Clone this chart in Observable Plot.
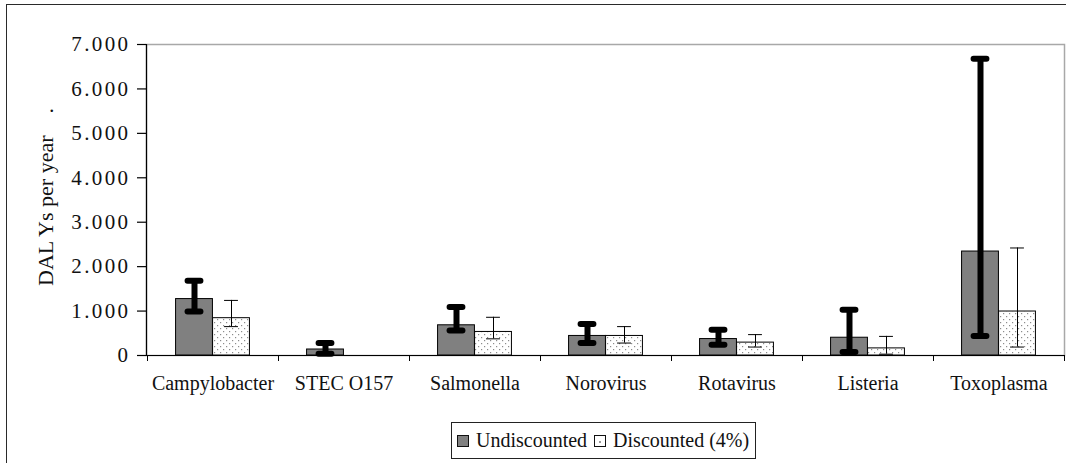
<!DOCTYPE html>
<html>
<head>
<meta charset="utf-8">
<script src="https://cdn.jsdelivr.net/npm/d3@7"></script>
<script src="https://cdn.jsdelivr.net/npm/@observablehq/plot@0.6"></script>
<style>
  html, body { margin: 0; padding: 0; background: #fff; }
  #wrap { position: relative; width: 1066px; height: 463px; overflow: hidden; background: #fff; }
  #outer { position: absolute; left: 6px; top: 4px; width: 1100px; height: 520px; border: 1.5px solid #2a2a2a; box-sizing: border-box; }
  #chart { position: absolute; left: 0; top: 0; }
  #chart svg, #chart svg text { font-family: "Liberation Serif", "Times New Roman", "DejaVu Serif", serif !important; }
  #chart svg text { white-space: pre; }
  #chart svg g[aria-label="y-axis tick label"] text { letter-spacing: 2.4px; }
  #legend { position: absolute; left: 451px; top: 422px; width: 305px; height: 37px; box-sizing: border-box;
    border: 1px solid #222; display: flex; align-items: center; padding-left: 5px; white-space: nowrap;
    font-family: "Liberation Serif", "Times New Roman", "DejaVu Serif", serif; font-size: 20px; color: #111; background: #fff; }
  .sw { width: 10px; height: 10px; border: 1px solid #111; display: inline-block; flex: none; }
  .lab { margin-left: 7px; margin-right: 7px; }
</style>
</head>
<body>
<svg width="0" height="0" style="position:absolute">
  <defs>
    <pattern id="dots" width="6" height="6" patternUnits="userSpaceOnUse">
      <rect width="6" height="6" fill="#fff"></rect>
      <rect x="1" y="1" width="1.2" height="1.2" fill="#8c8c8c"></rect>
      <rect x="4" y="4" width="1.2" height="1.2" fill="#8c8c8c"></rect>
    </pattern>
  </defs>
</svg>
<div id="wrap">
  <div id="outer"></div>
  <div id="chart"></div>
  <div id="legend"></div>
</div>
<script>
const categories = ["Campylobacter", "STEC O157", "Salmonella", "Norovirus", "Rotavirus", "Listeria", "Toxoplasma"];
const undiscounted = [1270, 135, 680, 440, 370, 400, 2340];
const undiscLow    = [990, 40, 560, 280, 240, 80, 440];
const undiscHigh   = [1680, 280, 1090, 710, 580, 1030, 6680];
const discounted   = [840, null, 530, 440, 290, 160, 990];
const discLow      = [650, null, 375, 280, 190, 30, 190];
const discHigh     = [1240, null, 860, 650, 470, 430, 2420];
const yTicks = [0, 1000, 2000, 3000, 4000, 5000, 6000, 7000];
const seriesNames = ["Undiscounted", "Discounted (4%)"];
const yLabel = "DAL Ys per year    .";

const rows = categories.map((c, i) => ({
  cat: c, und: undiscounted[i], uLo: undiscLow[i], uHi: undiscHigh[i],
  dis: discounted[i], dLo: discLow[i], dHi: discHigh[i]
}));
const disRows = rows.filter(r => r.dis != null);

const W = 1066, H = 410;
const mL = 146, mR = 2, mT = 44, mB = 55;
const step = (W - mL - mR) / categories.length;
const barW = 37;
const pairL = (step - 2 * barW) / 2;

const fmt = d3.formatLocale({decimal: ",", thousands: ".", grouping: [3], currency: ["", ""]}).format(",");

function axisLines(index, scales, values, dims) {
  const g = d3.create("svg:g").attr("stroke", "#000").attr("fill", "none");
  const y0 = scales.y(0), yTop = scales.y(7000);
  g.append("line").attr("x1", dims.marginLeft + 0.5).attr("x2", dims.marginLeft + 0.5)
    .attr("y1", yTop).attr("y2", y0).attr("stroke-width", 1.2);
  g.append("line").attr("x1", dims.marginLeft).attr("x2", dims.width - dims.marginRight)
    .attr("y1", y0 + 0.5).attr("y2", y0 + 0.5).attr("stroke-width", 1.2);
  const xs = categories.map(c => scales.x(c));
  xs.push(scales.x(categories[categories.length - 1]) + (xs[1] - xs[0]));
  for (const x of xs) {
    g.append("line").attr("x1", x + 0.5).attr("x2", x + 0.5).attr("y1", y0).attr("y2", y0 + 6);
  }
  return g.node();
}

const chart = Plot.plot({
  width: W, height: H,
  marginLeft: mL, marginRight: mR, marginTop: mT, marginBottom: mB,
  style: {fontFamily: "'Liberation Serif', 'Times New Roman', serif", fontSize: "20px", color: "#111", background: "transparent"},
  x: {domain: categories, padding: 0, axis: null},
  y: {domain: [0, 7000], axis: null},
  marks: [
    Plot.frame({stroke: "#a8a8a8", strokeWidth: 1.5}),
    Plot.barY(rows, {x: "cat", y: "und", fill: "#808080", stroke: "#000", strokeWidth: 1,
      insetLeft: pairL, insetRight: pairL + barW}),
    Plot.barY(disRows, {x: "cat", y: "dis", fill: "url(#dots)", stroke: "#000", strokeWidth: 1,
      insetLeft: pairL + barW, insetRight: pairL}),
    Plot.ruleX(rows, {x: "cat", y1: "uLo", y2: "uHi", dx: -barW / 2, stroke: "#000", strokeWidth: 6}),
    Plot.tickY(rows, {x: "cat", y: "uHi", insetLeft: pairL + barW / 2 - 6.5, insetRight: step - pairL - barW / 2 - 6.5,
      stroke: "#000", strokeWidth: 6, strokeLinecap: "round"}),
    Plot.tickY(rows, {x: "cat", y: "uLo", insetLeft: pairL + barW / 2 - 6.5, insetRight: step - pairL - barW / 2 - 6.5,
      stroke: "#000", strokeWidth: 6, strokeLinecap: "round"}),
    Plot.ruleX(disRows, {x: "cat", y1: "dLo", y2: "dHi", dx: barW / 2, stroke: "#000", strokeWidth: 1}),
    Plot.tickY(disRows, {x: "cat", y: "dHi", insetLeft: pairL + barW * 1.5 - 7, insetRight: pairL + barW / 2 - 7,
      stroke: "#000", strokeWidth: 1}),
    Plot.tickY(disRows, {x: "cat", y: "dLo", insetLeft: pairL + barW * 1.5 - 7, insetRight: pairL + barW / 2 - 7,
      stroke: "#000", strokeWidth: 1}),
    axisLines,
    Plot.axisY(yTicks, {anchor: "left", tickSize: 9, tickPadding: 7, tickFormat: fmt, label: null,
      stroke: "#000", strokeWidth: 1.2, fill: "#111", fontSize: 21}),
    Plot.axisX({anchor: "bottom", tickSize: 0, tickPadding: 20, label: null, fill: "#111", fontSize: 20}),
    Plot.text([yLabel], {frameAnchor: "left", textAnchor: "middle", rotate: -90, dx: -101, dy: -3, fontSize: 22, fill: "#111"})
  ]
});
document.getElementById("chart").appendChild(chart);

const legend = document.getElementById("legend");
seriesNames.forEach((s, i) => {
  const sw = document.createElement("span");
  sw.className = "sw";
  if (i === 0) sw.style.background = "#808080";
  else sw.style.background = "#fff radial-gradient(circle at 50% 60%, #999 0.8px, transparent 1.2px)";
  legend.appendChild(sw);
  const t = document.createElement("span");
  t.className = "lab";
  t.textContent = s;
  legend.appendChild(t);
});
</script>
</body>
</html>
